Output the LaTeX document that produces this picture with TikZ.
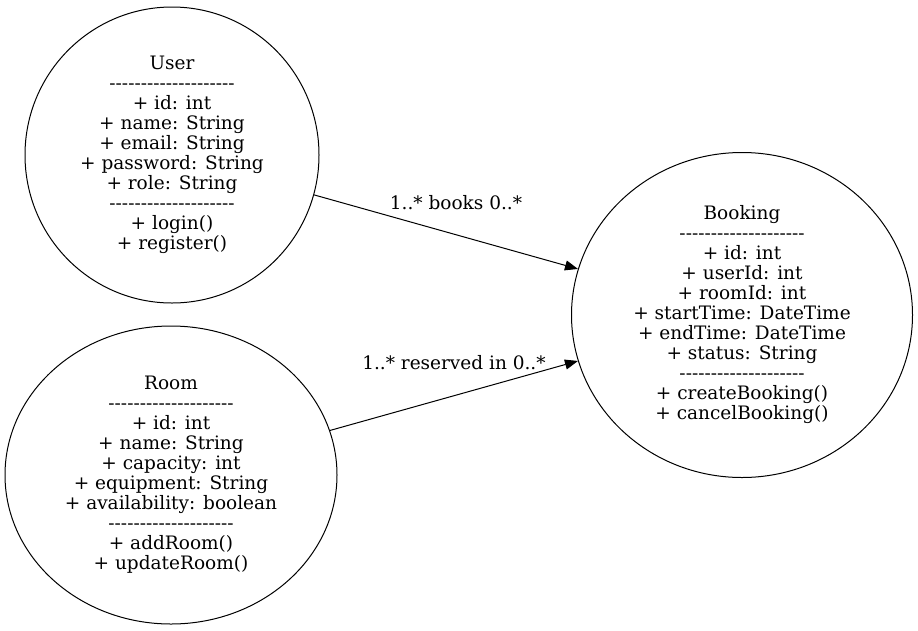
\documentclass[tikz,border=0pt]{standalone}
\usepackage{fontspec}
\setmainfont{DejaVu Serif}
\usetikzlibrary{shapes.geometric,arrows.meta}
\newcommand{\sepline}{-{}-{}-{}-{}-{}-{}-{}-{}-{}-{}-{}-{}-{}-{}-{}-{}-{}-{}-{}-}
\tikzset{
  cls/.style={draw, ellipse, inner sep=0pt, align=center, line width=1pt,
    font=\fontsize{18.5}{20}\selectfont},
  assoc/.style={-{Triangle[length=13pt,width=10pt]}, line width=1pt},
  lbl/.style={font=\fontsize{18.5}{20}\selectfont, inner sep=0pt}
}
\begin{document}
\begin{tikzpicture}[x=1pt,y=-1pt]
                \useasboundingbox (0,0) rectangle (918,630);
                \node[cls,minimum width=294pt,minimum height=296pt] (user) at (172,155)
                    {User\\ \sepline\\ + id: int\\ + name: String\\ + email: String\\ + password: String\\ + role: String\\ \sepline\\ + login()\\ + register()};
                \node[cls,minimum width=332pt,minimum height=298pt] (room) at (171,475)
                    {Room\\ \sepline\\ + id: int\\ + name: String\\ + capacity: int\\ + equipment: String\\ + availability: boolean\\ \sepline\\ + addRoom()\\ + updateRoom()};
                \node[cls,minimum width=341pt,minimum height=325pt] (booking) at (742,315)
                    {Booking\\ \sepline\\ + id: int\\ + userId: int\\ + roomId: int\\ + startTime: DateTime\\ + endTime: DateTime\\ + status: String\\ \sepline\\ + createBooking()\\ + cancelBooking()};
                \draw[assoc] (user) -- (booking) node[lbl,midway,above=22pt,xshift=10pt] (books) {1..* books 0..*};
                \draw[assoc] (room) -- (booking) node[lbl,midway,above=25pt] (reserved) {1..* reserved in 0..*};
            \end{tikzpicture}
\end{document}
